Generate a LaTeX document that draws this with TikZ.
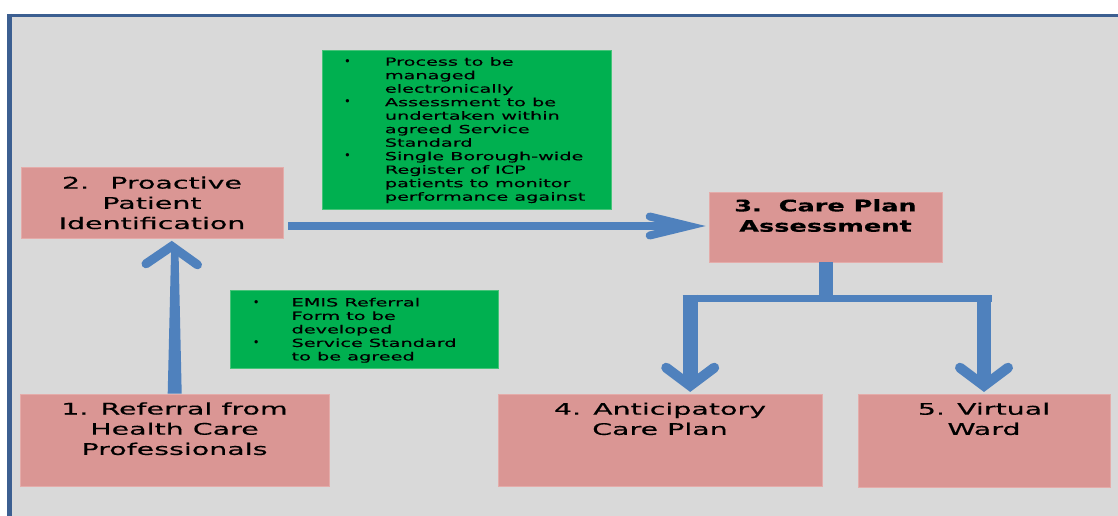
\documentclass[tikz,border=0pt]{standalone}
\usepackage{fontspec}
\setmainfont{DejaVu Sans}
\newfontfamily\dfont[FakeStretch=1.78,FakeBold=0.35,BoldFeatures={FakeStretch=1.6}]{DejaVu Sans}
\newfontfamily\nfont[FakeStretch=1.72,FakeBold=0.35]{DejaVu Sans}
\newfontfamily\bulletfont{DejaVu Sans}
\usetikzlibrary{calc}
\definecolor{panel}{RGB}{217,217,217}
\definecolor{frameblue}{RGB}{60,95,145}
\definecolor{pinkbox}{RGB}{218,150,148}
\definecolor{pinkedge}{RGB}{228,172,170}
\definecolor{greenbox}{RGB}{0,176,80}
\definecolor{greenedge}{RGB}{70,195,120}
\definecolor{flowblue}{RGB}{79,129,189}
\newcommand{\bul}[1]{\llap{\raisebox{0.3pt}{\bulletfont\fontsize{11.5}{11.5}\selectfont •}\hspace{#1}}}
\tikzset{
  box/.style={fill=pinkbox, draw=pinkedge, line width=0.6pt, inner sep=0pt},
  note/.style={fill=greenbox, draw=greenedge, line width=0.6pt, inner sep=0pt},
  boxtext/.style={anchor=base, align=center, inner sep=0pt, text=black, font=\dfont\fontsize{16}{20.2}\selectfont},
  notetext/.style={anchor=base west, align=left, inner sep=0pt, text=black, font=\nfont\fontsize{11.2}{13.5}\selectfont},
  flow/.style={draw=flowblue, line cap=butt},
  chev/.style={draw=flowblue, line cap=round, line join=miter, miter limit=10}
}
\begin{document}
\begin{tikzpicture}[x=1pt,y=-1pt]
\useasboundingbox (0,0) rectangle (1118,516);
\fill[white] (0,0) rectangle (1118,516);
\fill[panel] (9.5,15.3) rectangle (1118,516);
\draw[frameblue, line width=3pt] (8,15.3) -- (1118,15.3);
\draw[frameblue, line width=4.5pt] (9.7,13.8) -- (9.7,516);

% boxes
\node[box, minimum width=309pt, minimum height=92pt] (b1) at (174.5,440) {};
\node[box, minimum width=262pt, minimum height=71pt] (b2) at (152,202.5) {};
\node[box, minimum width=233pt, minimum height=70pt] (b3) at (825.5,227) {};
\node[box, minimum width=324pt, minimum height=92pt] (b4) at (660,440) {};
\node[box, minimum width=252pt, minimum height=93pt] (b5) at (984,440.5) {};

% notes
\node[note, minimum width=289pt, minimum height=159pt] (n1) at (466.5,129.5) {};
\node[note, minimum width=268pt, minimum height=78pt] (n2) at (364,329) {};

% box texts (anchor base = last line)
\node[boxtext] (t1) at ($(b1.north)+(0,61.2)$) {1. Referral from\\Health Care\\Professionals};
\node[boxtext] (t2) at ($(b2.north)+(0,62.3)$) {2.\hspace{9pt} Proactive\\Patient\\Identification};
\node[boxtext, font=\dfont\bfseries\fontsize{16}{20.3}\selectfont] (t3) at ($(b3.north)+(0,40)$) {3.\hspace{5pt} Care Plan\\Assessment};
\node[boxtext] (t4) at ($(b4.north)+(0,41.2)$) {4. Anticipatory\\Care Plan};
\node[boxtext] (t5) at ($(b5.north)+(0,41.2)$) {5. Virtual\\Ward};

% note texts
\node[notetext] (g1) at ($(n1.north west)+(63,151)$) {\bul{34pt}Process to be\\managed\\electronically\\\bul{34pt}Assessment to be\\undertaken within\\agreed Service\\Standard\\\bul{34pt}Single Borough-wide\\Register of ICP\\patients to monitor\\performance against};
\node[notetext] (g2) at ($(n2.north west)+(61.7,70.7)$) {\bul{32pt}EMIS Referral\\Form to be\\developed\\\bul{32pt}Service Standard\\to be agreed};

% arrow 1 -> 2 (tapered shaft)
\fill[flowblue] ($(b1.north)+(-6.8,0)$) -- ($(b1.north)+(7.2,0)$) -- ($(b1.north |- b2.south)+(4,12)$) -- ($(b1.north |- b2.south)+(-3.4,12)$) -- cycle;
\draw[chev, line width=9pt] ($(b1.north |- b2.south)+(-28.5,25.5)$) -- ($(b1.north |- b2.south)+(-2.8,8)$) -- ($(b1.north |- b2.south)+(23,26.5)$);

% arrow 2 -> 3
\draw[flow, line width=7.5pt] ($(b2.east |- b3.west)+(5,-1)$) -- ($(b3.west)+(-20,-1)$);
\draw[chev, line width=8pt] ($(b3.west)+(-59,-10.5)$) -- ($(b3.west)+(-20,-1)$) -- ($(b3.west)+(-59,8.5)$);

% branch 3 -> 4, 5
\coordinate (bl) at ($(b4.north)+(30.2,-95.5)$);
\coordinate (br) at (b5.north |- bl);
\draw[flow, line width=14pt] (b3.south) -- ($(b3.south |- bl)+(0,3.5)$);
\draw[flow, line width=7pt] ($(bl)+(-7.5,0)$) -- ($(br)+(7.5,0)$);
\draw[flow, line width=15pt] ($(bl)+(0,-3.5)$) -- ($(b4.north -| bl)+(0,-8)$);
\draw[flow, line width=14pt] ($(br)+(0,-3.5)$) -- ($(b5.north)+(0,-8)$);
\draw[chev, line width=10pt] ($(b4.north -| bl)+(-24,-26)$) -- ($(b4.north -| bl)+(0,-8)$) -- ($(b4.north -| bl)+(24,-26)$);
\draw[chev, line width=10pt] ($(b5.north)+(-24,-26)$) -- ($(b5.north)+(0,-8)$) -- ($(b5.north)+(24,-26)$);
\end{tikzpicture}
\end{document}
